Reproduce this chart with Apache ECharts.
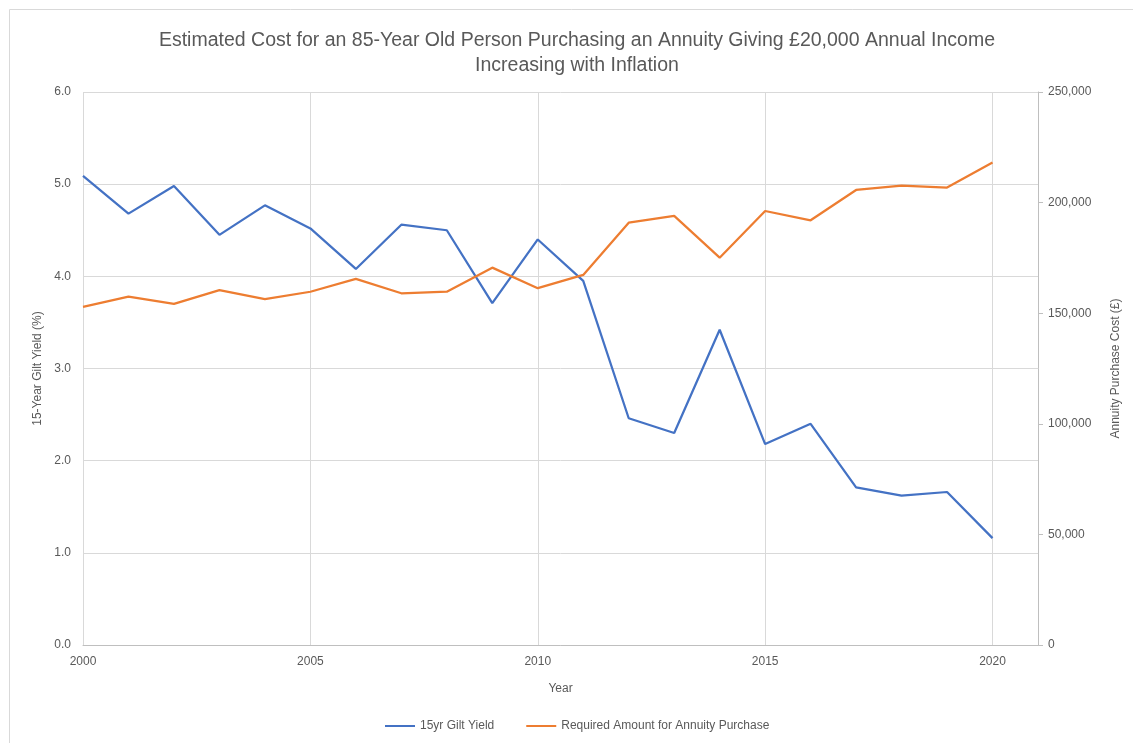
<!DOCTYPE html>
<html>
<head>
<meta charset="utf-8">
<script src="https://cdn.jsdelivr.net/npm/echarts@6/dist/echarts.min.js"></script>
<style>html,body{margin:0;padding:0;background:#fff;}#c{width:1133px;height:743px;}</style>
</head>
<body>
<div id="c"></div>
<script>
const years = [2000,2001,2002,2003,2004,2005,2006,2007,2008,2009,2010,2011,2012,2013,2014,2015,2016,2017,2018,2019,2020];
const giltYield = [5.09,4.68,4.98,4.45,4.77,4.52,4.08,4.56,4.50,3.71,4.40,3.95,2.46,2.30,3.42,2.18,2.40,1.71,1.62,1.66,1.16];
const annuityCost = [152900,157500,154200,160400,156400,159700,165500,159000,159700,170600,161300,167300,190900,194000,175100,196200,192000,205700,207700,206800,218100];
const seriesNames = ['15yr Gilt Yield','Required Amount for Annuity Purchase'];
const titleText = 'Estimated Cost for an 85-Year Old Person Purchasing an Annuity Giving £20,000 Annual Income\nIncreasing with Inflation';

const FONT = 'Liberation Sans';
const TXT = '#595959';
const chart = echarts.init(document.getElementById('c'));
chart.setOption({
  animation: false,
  textStyle: {fontFamily: FONT},
  graphic: [{type:'rect', shape:{x:9.5, y:9.5, width:1200, height:800}, style:{fill:'none', stroke:'#d9d9d9', lineWidth:1}, silent:true, z:-10}],
  title: {
    text: titleText, left: 572, textAlign: 'center', top: 23,
    textStyle: {fontFamily: FONT, fontSize: 19.5, fontWeight: 'normal', color: TXT, lineHeight: 25}
  },
  legend: {
    bottom: 6, left: 380, itemGap: 32, itemWidth: 30, itemHeight: 2,
    icon: 'rect',
    textStyle: {fontFamily: FONT, fontSize: 12, color: TXT},
    data: seriesNames
  },
  grid: {left: 83, right: 95, top: 92, bottom: 98},
  xAxis: {
    type: 'value', min: 2000, max: 2021, interval: 5,
    name: 'Year', nameLocation: 'middle', nameGap: 38,
    nameTextStyle: {fontFamily: FONT, fontSize: 12, color: TXT},
    axisLine: {show: true, lineStyle: {color: '#bfbfbf', width: 1}},
    axisTick: {show: false},
    axisLabel: {color: TXT, fontSize: 12, margin: 11, showMaxLabel: false, formatter: v => v === 2021 ? '' : String(v)},
    splitLine: {show: true, lineStyle: {color: '#d9d9d9', width: 1}}
  },
  yAxis: [{
    type: 'value', min: 0, max: 6, interval: 1,
    name: '15-Year Gilt Yield (%)', nameLocation: 'middle', nameGap: 38, nameRotate: 90,
    nameTextStyle: {fontFamily: FONT, fontSize: 12, color: TXT},
    axisLine: {show: false}, axisTick: {show: false},
    axisLabel: {color: TXT, fontSize: 12, margin: 12, formatter: v => v.toFixed(1)},
    splitLine: {show: true, lineStyle: {color: '#d9d9d9', width: 1}}
  }, {
    type: 'value', min: 0, max: 250000, interval: 50000, position: 'right',
    name: 'Annuity Purchase Cost (£)', nameLocation: 'middle', nameGap: 72, nameRotate: 90,
    nameTextStyle: {fontFamily: FONT, fontSize: 12, color: TXT},
    axisLine: {show: true, lineStyle: {color: '#bfbfbf', width: 1}},
    axisTick: {show: true, length: 5, lineStyle: {color: '#bfbfbf'}},
    axisLabel: {color: TXT, fontSize: 12, margin: 10, formatter: v => v.toLocaleString('en-GB')},
    splitLine: {show: false}
  }],
  series: [{
    name: seriesNames[0], type: 'line', yAxisIndex: 0, showSymbol: false, symbol: 'none',
    data: years.map((y, i) => [y, giltYield[i]]),
    lineStyle: {color: '#4472C4', width: 2.25}, itemStyle: {color: '#4472C4'}
  }, {
    name: seriesNames[1], type: 'line', yAxisIndex: 1, showSymbol: false, symbol: 'none',
    data: years.map((y, i) => [y, annuityCost[i]]),
    lineStyle: {color: '#ED7D31', width: 2.25}, itemStyle: {color: '#ED7D31'}
  }]
});
</script>
</body>
</html>
